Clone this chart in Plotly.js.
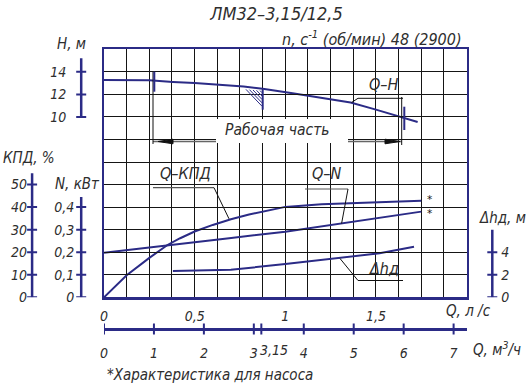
<!DOCTYPE html>
<html><head><meta charset="utf-8">
<script src="https://cdn.plot.ly/plotly-3.0.1.min.js"></script>
<style>html,body{margin:0;padding:0;background:#fff}#c{width:531px;height:386px}</style>
</head><body><div id="c"></div>
<script>
// ---- data ----
const qH   = [0, 0.25, 0.38, 0.5, 0.77, 0.875, 1.04, 1.2, 1.36, 1.5, 1.65, 1.73];   // Q, l/s
const headH = [13.28, 13.25, 13.1, 13.0, 12.7, 12.5, 12.1, 11.7, 11.28, 10.65, 9.95, 9.55]; // H, m
const qEff = [0, 0.125, 0.25, 0.35, 0.42, 0.5, 0.6, 0.7, 0.8, 0.9, 1.0, 1.2, 1.43, 1.75];
const eff  = [0, 9.8, 17.5, 23.2, 26.2, 29.2, 32.1, 34.6, 36.7, 38.5, 40.1, 41.3, 42.0, 42.8]; // %
const qPow = [0, 0.35, 0.69, 1.0, 1.31, 1.75];
const power = [0.198, 0.232, 0.262, 0.291, 0.328, 0.38];  // kW
const qNpsh = [0.38, 0.62, 0.70, 1.0, 1.3, 1.52, 1.71];
const npsh  = [2.33, 2.42, 2.44, 2.95, 3.46, 3.9, 4.49];  // m
const qLsTicks = [0, 0.5, 1, 1.5];
const qM3Ticks = [0, 1, 2, 3, 3.15, 4, 5, 6, 7];
const qM3Text  = ['0', '1', '2', '3', '3,15', '4', '5', '6', '7'];
const qNominal = 3.15;   // m3/h, label placed beside its tick
const hTicks = [10, 12, 14];
const effTicks = [0, 10, 20, 30, 40, 50];
const powTicks = [0, 0.1, 0.2, 0.3, 0.4];
const npshTicks = [0, 2, 4];

// ---- geometry ----
const W = 531, HH = 386;
const L = 104, R = 466.6, T = 49.3, B = 297.3;
const X = px => px / W, Y = py => 1 - py / HH;
const NAVY = '#2b2b86', GRID = '#151515', TXT = '#2e2e2e';
const FONT = "'Liberation Sans Narrow', 'DejaVu Sans Condensed', 'Liberation Sans', sans-serif";
const f = (s) => ({family: FONT, size: s, color: TXT, style: 'italic'});

const curve = (x, y, ax) => ({x, y, xaxis: 'x', yaxis: ax, type: 'scatter', mode: 'lines',
  line: {color: NAVY, width: 2}, hoverinfo: 'skip'});
const data = [
  curve(qH, headH, 'y2'),
  curve(qEff, eff, 'y3'),
  curve(qPow, power, 'y4'),
  curve(qNpsh, npsh, 'y5')
];

const shapes = [];
const seg = (x0, y0, x1, y1, color, width) => shapes.push({type: 'line', xref: 'paper', yref: 'paper',
  x0: X(x0), y0: Y(y0), x1: X(x1), y1: Y(y1), line: {color, width}});
// vertical value axes (short lines with crossing ticks)
function vaxis(px, yref, lo, hi, ticks) {
  shapes.push({type: 'line', xref: 'paper', yref, x0: X(px), x1: X(px), y0: lo, y1: hi, line: {color: NAVY, width: 2.5}});
  ticks.forEach(v => shapes.push({type: 'line', xref: 'paper', yref, x0: X(px - 5), x1: X(px + 5), y0: v, y1: v,
    line: {color: NAVY, width: 2}}));
}
vaxis(81.2, 'y2', 10, 15.2, hTicks);
vaxis(32.1, 'y3', 0, 55, effTicks);
vaxis(81.2, 'y4', 0, 0.445, powTicks);
vaxis(492.3, 'y5', 0, 6, npshTicks);
// m3/h axis crossing ticks
qM3Ticks.forEach(v => shapes.push({type: 'line', xref: 'x2', yref: 'paper', x0: v, x1: v, y0: Y(323.5), y1: Y(334.5),
  line: {color: NAVY, width: 2}}));

// working range bracket
seg(153, 141.5, 401.7, 141.5, '#666', 1.5);
const path = pts => 'M ' + pts.map(p => X(p[0]) + ' ' + Y(p[1])).join(' L ') + ' Z';
shapes.push({type: 'path', xref: 'paper', yref: 'paper', path: path([[158, 141.5], [173, 139.2], [173, 143.8]]),
  fillcolor: '#111', line: {color: '#111', width: 1}});
shapes.push({type: 'path', xref: 'paper', yref: 'paper', path: path([[400, 141.5], [385, 139.2], [385, 143.8]]),
  fillcolor: '#111', line: {color: '#111', width: 1}});
// white box behind label
shapes.push({type: 'rect', xref: 'paper', yref: 'paper', x0: X(216), x1: X(348), y0: Y(119), y1: Y(143),
  fillcolor: '#fff', line: {width: 0}});
// extension lines
seg(153, 72, 153, 144, '#111', 1);
seg(401.7, 97, 401.7, 145, '#111', 1);
// range marks on Q-H
seg(154.3, 71.7, 154.3, 91.7, NAVY, 2);
seg(404.3, 106.7, 404.3, 130, NAVY, 2);
// nominal point mark with hatching
seg(262.7, 89.7, 262.7, 109.7, NAVY, 2);
[[246, 88.4], [249.5, 88.7], [253, 89], [256.5, 89.3], [260, 89.6]]
  .forEach(p => seg(p[0], p[1] + 1, 262, p[1] + 1 + (262 - p[0]) * 1.05, NAVY, 1));
// leader lines
seg(351.5, 102.5, 358, 98.3, '#111', 1); seg(358, 98.3, 403, 98.3, '#111', 1);
seg(153, 187.7, 214, 187.7, '#555', 1.2); seg(214, 187.7, 229, 218.8, '#111', 1);
seg(305, 189, 348, 189, '#555', 1.2); seg(348, 189, 341.6, 223.5, '#111', 1);
seg(358, 280.5, 403, 280.5, '#111', 1); seg(358, 280.5, 340, 258.5, '#111', 1);

const ann = (text, px, py, xa, size) => ({text, x: X(px), y: Y(py), xref: 'paper', yref: 'paper',
  xanchor: xa, yanchor: 'middle', showarrow: false, font: f(size || 15)});
const annotations = [
  ann('n, с<sup>-1</sup> (об/мин) 48 (2900)', 464, 38, 'right', 16),
  ann('Н, м', 55, 44, 'left', 15),
  ann('КПД, %', 1, 158, 'left', 15),
  ann('N, кВт', 53, 183.5, 'left', 15),
  ann('Δhд, м', 528, 218, 'right', 15),
  ann('Q, л /с', 444, 311, 'left', 15),
  ann('Q, м<sup>3</sup>/ч', 471, 349, 'left', 15),
  ann('*Характеристика для насоса', 105, 375, 'left', 15),
  ann('Рабочая часть', 277, 129.5, 'center', 15.5),
  ann('Q–H', 367, 84, 'left', 16),
  ann('Q–КПД', 158, 173, 'left', 16),
  ann('Q–N', 310, 173, 'left', 16),
  ann('Δhд', 367, 268.5, 'left', 16),
  Object.assign(ann('*<br>*', 429, 205.5, 'center', 9), {borderpad: 0, font: {family: 'DejaVu Sans', size: 10.5, color: '#111'}}),
  {text: qM3Text[qM3Ticks.indexOf(qNominal)], xref: 'x2', x: qNominal, yref: 'paper', y: Y(350),
   xanchor: 'left', xshift: -3, yanchor: 'middle', showarrow: false, font: f(14)}
];

const yFree = (pos, range, tickvals, side, standoff) => ({
  overlaying: 'y', anchor: 'free', position: X(pos), side, range, tickmode: 'array', tickvals,
  showgrid: false, zeroline: false, showline: false, ticks: '', ticklabelstandoff: standoff,
  tickfont: f(14), fixedrange: true});

const m3Labelled = qM3Ticks.filter(v => v !== qNominal);
const layout = {
  width: W, height: HH, margin: {l: 0, r: 0, t: 0, b: 0},
  paper_bgcolor: '#fff', plot_bgcolor: 'rgba(0,0,0,0)', showlegend: false, separators: ', ',
  font: f(14),
  title: {text: 'ЛМ32–3,15/12,5', x: X(276.5), y: Y(13.5), xanchor: 'center', yanchor: 'middle', font: f(18)},
  xaxis: {domain: [X(L), X(R)], range: [0, 2], tickmode: 'array', tickvals: qLsTicks,
    showgrid: true, gridcolor: GRID, gridwidth: 1,
    minor: {tick0: 0, dtick: 0.125, showgrid: true, gridcolor: GRID, gridwidth: 1},
    showline: true, mirror: true, linecolor: NAVY, linewidth: 2.5, zeroline: false, ticks: '',
    ticklabelstandoff: 4, tickangle: 0, tickfont: f(14), fixedrange: true},
  xaxis2: {overlaying: 'x', anchor: 'free', position: Y(329), side: 'bottom', range: [0, 7.26],
    tickmode: 'array', tickvals: m3Labelled, ticktext: m3Labelled.map(v => qM3Text[qM3Ticks.indexOf(v)]),
    showgrid: false, zeroline: false,
    showline: true, linecolor: NAVY, linewidth: 2.5, ticks: '', ticklabelstandoff: 11, tickangle: 0,
    tickfont: f(14), fixedrange: true},
  yaxis: {domain: [Y(B), Y(T)], range: [0, 11], dtick: 1, showgrid: true, gridcolor: GRID, gridwidth: 1,
    showticklabels: false, showline: true, mirror: true, linecolor: NAVY, linewidth: 2.5, zeroline: false,
    ticks: '', fixedrange: true},
  yaxis2: yFree(81.2, [-6, 16], hTicks, 'left', 15),
  yaxis3: yFree(32.1, [0, 110], effTicks, 'left', 5),
  yaxis4: yFree(81.2, [0, 1.1], powTicks, 'left', 7),
  yaxis5: yFree(492.3, [0, 22], npshTicks, 'right', 8),
  shapes, annotations
};
Plotly.newPlot('c', data, layout, {staticPlot: true, displayModeBar: false});
</script></body></html>
